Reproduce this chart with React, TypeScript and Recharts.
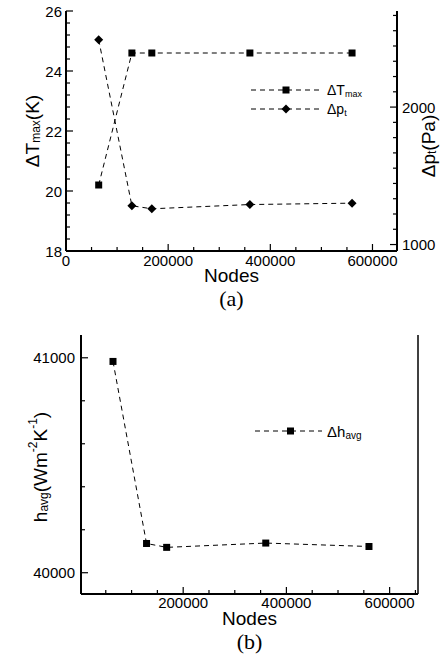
import React from 'react';
import { LineChart, Line, XAxis, YAxis, Legend } from 'recharts';

// ---- data ----
const nodes = [64000, 129000, 168000, 360000, 560000];
const deltaTmax = [20.2, 24.6, 24.6, 24.6, 24.6];
const deltaPt = [2490, 1282, 1260, 1291, 1301];
const hAvg = [40983, 40136, 40118, 40138, 40122];

// ---- tick labels ----
const xMajorA = [0, 200000, 400000, 600000];
const xMajorB = [200000, 400000, 600000];
const xMinorA = [0, 50000, 100000, 150000, 200000, 250000, 300000, 350000, 400000, 450000, 500000, 550000, 600000];
const xMinorB = [50000, 100000, 150000, 200000, 250000, 300000, 350000, 400000, 450000, 500000, 550000, 600000, 650000];
const tMajor = [18, 20, 22, 24, 26];
const pMajor = [1000, 2000];
const hMajor = [40000, 41000];
const hMinor = [40000, 40200, 40400, 40600, 40800, 41000];

const tTicks = Array.from({ length: 21 }, (_, i) => 18 + i * 0.4);
const pTicks = Array.from({ length: 16 }, (_, i) => 1000 + (i * 1000) / 9);

const dataA = nodes.map((n, i) => ({ nodes: n, dT: deltaTmax[i], dp: deltaPt[i] }));
const dataB = nodes.map((n, i) => ({ nodes: n, h: hAvg[i] }));

const FONT = '"Liberation Sans", Arial, Helvetica, sans-serif';
const SERIF = '"Liberation Serif", "Times New Roman", serif';
const TICK_FS = 15;
const DASH = '5 4';

const isMajor = (majors: number[], v: number) => majors.some((m) => Math.abs(m - v) < 1e-6);

const makeTick = (orient: 'left' | 'right' | 'bottom', majors: number[], gap: number) => (props: any) => {
  const { x, y, payload } = props;
  const v = payload.value;
  const major = isMajor(majors, v);
  const len = major ? 7 : 4;
  if (orient === 'left') {
    return (
      <g>
        <line x1={x} y1={y} x2={x + len} y2={y} stroke="#000" strokeWidth={1.2} />
        {major && (
          <text x={x - gap} y={y} textAnchor="end" dominantBaseline="central" fontFamily={FONT} fontSize={TICK_FS} fill="#000">
            {v}
          </text>
        )}
      </g>
    );
  }
  if (orient === 'right') {
    return (
      <g>
        <line x1={x} y1={y} x2={x - len} y2={y} stroke="#000" strokeWidth={1.2} />
        {major && (
          <text x={x + gap} y={y} textAnchor="start" dominantBaseline="central" fontFamily={FONT} fontSize={TICK_FS} fill="#000">
            {Math.round(v)}
          </text>
        )}
      </g>
    );
  }
  return (
    <g>
      <line x1={x} y1={y} x2={x} y2={y - len} stroke="#000" strokeWidth={1.2} />
      {major && (
        <text x={x} y={y + gap} textAnchor="middle" dominantBaseline="central" fontFamily={FONT} fontSize={TICK_FS} fill="#000">
          {v}
        </text>
      )}
    </g>
  );
};

const squareDot = (p: any) => (
  <rect key={`s${p.index}`} x={p.cx - 3.5} y={p.cy - 3.5} width={7} height={7} fill="#000" />
);
const diamondDot = (p: any) => (
  <path
    key={`d${p.index}`}
    d={`M${p.cx},${p.cy - 4.5}L${p.cx + 4.5},${p.cy}L${p.cx},${p.cy + 4.5}L${p.cx - 4.5},${p.cy}Z`}
    fill="#000"
  />
);

const LegendA = () => (
  <svg width={150} height={40} style={{ display: 'block', overflow: 'visible' }}>
    <line x1={0} y1={10} x2={68} y2={10} stroke="#000" strokeDasharray={DASH} />
    <rect x={31.5} y={6.5} width={7} height={7} fill="#000" />
    <text x={76} y={10} dominantBaseline="central" fontFamily={FONT} fontSize={14} fill="#000">
      ΔT<tspan fontSize={9} dy={4}>max</tspan>
    </text>
    <line x1={0} y1={29} x2={68} y2={29} stroke="#000" strokeDasharray={DASH} />
    <path d="M35,24.5L39.5,29L35,33.5L30.5,29Z" fill="#000" />
    <text x={76} y={29} dominantBaseline="central" fontFamily={FONT} fontSize={14} fill="#000">
      Δp<tspan fontSize={9} dy={4}>t</tspan>
    </text>
  </svg>
);

const LegendB = () => (
  <svg width={150} height={20} style={{ display: 'block', overflow: 'visible' }}>
    <line x1={0} y1={10} x2={67} y2={10} stroke="#000" strokeDasharray={DASH} />
    <rect x={32} y={6.5} width={7} height={7} fill="#000" />
    <text x={72} y={10} dominantBaseline="central" fontFamily={FONT} fontSize={15} fill="#000">
      Δh<tspan fontSize={10} dy={4}>avg</tspan>
    </text>
  </svg>
);

const xLabel = (caption: string) => (props: any) => {
  const vb = props.viewBox;
  const cx = vb.x + vb.width / 2;
  return (
    <g>
      <text x={cx} y={vb.y + 24} textAnchor="middle" dominantBaseline="central" fontFamily={FONT} fontSize={19} fill="#000">
        Nodes
      </text>
      <text x={cx} y={vb.y + 47} textAnchor="middle" dominantBaseline="central" fontFamily={SERIF} fontSize={22} fill="#000">
        {caption}
      </text>
    </g>
  );
};

const yLabelT = (props: any) => {
  const cx = 32;
  const cy = 131;
  return (
    <text x={cx} y={cy} transform={`rotate(-90, ${cx}, ${cy})`} textAnchor="middle" dominantBaseline="central" fontFamily={FONT} fontSize={19} fill="#000">
      ΔT<tspan fontSize={12} dy={4}>max</tspan>
      <tspan dy={-4}>(K)</tspan>
    </text>
  );
};

const yLabelP = (props: any) => {
  const cx = 428;
  const cy = 146;
  return (
    <text x={cx} y={cy} transform={`rotate(-90, ${cx}, ${cy})`} textAnchor="middle" dominantBaseline="central" fontFamily={FONT} fontSize={19} fill="#000">
      Δp<tspan fontSize={12} dy={4}>t</tspan>
      <tspan dy={-4}>(Pa)</tspan>
    </text>
  );
};

const yLabelH = (props: any) => {
  const cx = 40;
  const cy = 147;
  return (
    <text x={cx} y={cy} transform={`rotate(-90, ${cx}, ${cy})`} textAnchor="middle" dominantBaseline="central" fontFamily={FONT} fontSize={19} fill="#000">
      h<tspan fontSize={12} dy={4}>avg</tspan>
      <tspan dy={-4}>(Wm</tspan>
      <tspan fontSize={12} dy={-7}>-2</tspan>
      <tspan dy={7}>K</tspan>
      <tspan fontSize={12} dy={-7}>-1</tspan>
      <tspan dy={7}>)</tspan>
    </text>
  );
};

const axisStroke = { stroke: '#000', strokeWidth: 2 };
const frameStroke = { stroke: '#000', strokeWidth: 1.5 };

export default function App() {
  return (
    <div style={{ position: 'absolute', left: 0, top: 0, width: 441, height: 659, background: '#fff' }}>
      <div style={{ position: 'absolute', left: 0, top: 0 }}>
        <LineChart width={441} height={320} data={dataA} margin={{ top: 11, right: 0, bottom: 0, left: 0 }}>
          <XAxis
            dataKey="nodes"
            type="number"
            domain={[0, 648000]}
            allowDataOverflow
            ticks={xMinorA}
            interval={0}
            height={69}
            tickSize={0}
            tickMargin={0}
            tickLine={false}
            axisLine={axisStroke}
            tick={makeTick('bottom', xMajorA, 9)}
            label={{ content: xLabel('(a)') }}
          />
          <XAxis
            xAxisId="top"
            dataKey="nodes"
            type="number"
            domain={[0, 648000]}
            orientation="top"
            height={0}
            tick={false}
            tickLine={false}
            axisLine={frameStroke}
          />
          <YAxis
            yAxisId="left"
            type="number"
            domain={[18, 26]}
            allowDataOverflow
            ticks={tTicks}
            interval={0}
            width={66}
            tickSize={0}
            tickMargin={0}
            tickLine={false}
            axisLine={axisStroke}
            tick={makeTick('left', tMajor, 4)}
            label={{ content: yLabelT }}
          />
          <YAxis
            yAxisId="right"
            orientation="right"
            type="number"
            domain={[953, 2699]}
            allowDataOverflow
            ticks={pTicks}
            interval={0}
            width={44}
            tickSize={0}
            tickMargin={0}
            tickLine={false}
            axisLine={axisStroke}
            tick={makeTick('right', pMajor, 5)}
            label={{ content: yLabelP }}
          />
          <Legend
            layout="horizontal"
            verticalAlign="middle"
            align="center"
            content={() => <LegendA />}
            wrapperStyle={{ position: 'absolute', left: 251, top: 80, width: 150, height: 40 }}
          />
          <Line
            yAxisId="left"
            type="linear"
            dataKey="dT"
            stroke="#000"
            strokeWidth={1}
            strokeDasharray={DASH}
            dot={squareDot}
            activeDot={false}
            isAnimationActive={false}
          />
          <Line
            yAxisId="right"
            type="linear"
            dataKey="dp"
            stroke="#000"
            strokeWidth={1}
            strokeDasharray={DASH}
            dot={diamondDot}
            activeDot={false}
            isAnimationActive={false}
          />
        </LineChart>
      </div>
      <div style={{ position: 'absolute', left: 0, top: 320 }}>
        <LineChart width={441} height={339} data={dataB} margin={{ top: 15, right: 0, bottom: 0, left: 0 }}>
          <XAxis
            dataKey="nodes"
            type="number"
            domain={[2000, 655000]}
            allowDataOverflow
            ticks={xMinorB}
            interval={0}
            height={65}
            tickSize={0}
            tickMargin={0}
            tickLine={false}
            axisLine={axisStroke}
            tick={makeTick('bottom', xMajorB, 8)}
            label={{ content: xLabel('(b)') }}
          />
          <XAxis
            xAxisId="top"
            dataKey="nodes"
            type="number"
            domain={[2000, 655000]}
            orientation="top"
            height={0}
            tick={false}
            tickLine={false}
            axisLine={frameStroke}
          />
          <YAxis
            yAxisId="left"
            type="number"
            domain={[39901, 41106]}
            allowDataOverflow
            ticks={hMinor}
            interval={0}
            width={81}
            tickSize={0}
            tickMargin={0}
            tickLine={false}
            axisLine={axisStroke}
            tick={makeTick('left', hMajor, 6)}
            label={{ content: yLabelH }}
          />
          <YAxis
            yAxisId="frame"
            orientation="right"
            type="number"
            domain={[0, 1]}
            width={23}
            tick={false}
            tickLine={false}
            axisLine={frameStroke}
          />
          <Legend
            layout="horizontal"
            verticalAlign="middle"
            align="center"
            content={() => <LegendB />}
            wrapperStyle={{ position: 'absolute', left: 255, top: 101, width: 150, height: 20 }}
          />
          <Line
            yAxisId="left"
            type="linear"
            dataKey="h"
            stroke="#000"
            strokeWidth={1}
            strokeDasharray={DASH}
            dot={squareDot}
            activeDot={false}
            isAnimationActive={false}
          />
        </LineChart>
      </div>
    </div>
  );
}
